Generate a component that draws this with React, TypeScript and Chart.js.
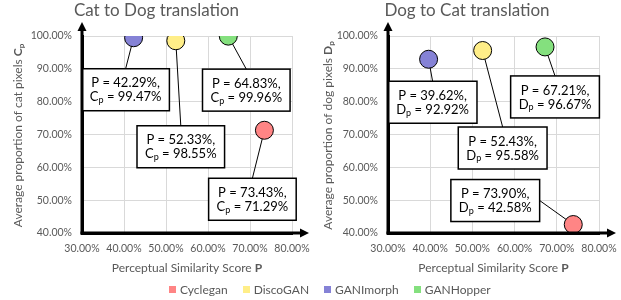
import { useEffect, useRef } from 'react';
import { Chart, registerables } from 'chart.js';

Chart.register(...registerables);

const FONT = 'Lato, "Open Sans", sans-serif';
const GRAY = '#595959';
const AXIS = '#000000';

const categories = ['Cyclegan', 'DiscoGAN', 'GANImorph', 'GANHopper'];
const colors = ['#FF8585', '#FFEE88', '#8582D6', '#84E07E'];

const catToDogP = [73.43, 52.33, 42.29, 64.83];
const catToDogCp = [71.29, 98.55, 99.47, 99.96];
const dogToCatP = [73.9, 52.43, 39.62, 67.21];
const dogToCatDp = [42.58, 95.58, 92.92, 96.67];

const xTickValues = [30, 40, 50, 60, 70, 80];
const xTickLabels = ['30.00%', '40.00%', '50.00%', '60.00%', '70.00%', '80.00%'];
const yTickValues = [40, 50, 60, 70, 80, 90, 100];
const yTickLabels = ['40.00%', '50.00%', '60.00%', '70.00%', '80.00%', '90.00%', '100.00%'];

// label box placement (styling): offset of box centre from its point, and where the leader attaches
const leftOffsets = [[-12, 69], [5, 106], [-8, 52], [18, 54]];
const leftAnchors = ['top', 'top', 'top', 'top'];
const rightOffsets = [[-78, -24], [20, 97.5], [4, 43], [10, 50]];
const rightAnchors = ['right', 'top', 'top', 'top'];

type Side = {
  key: string;
  title: string;
  xs: number[];
  ys: number[];
  sym: string;
  yTitle: string;
  offsets: number[][];
  anchors: string[];
  width: number;
  padRight: number;
  yWidth: number;
};

const sides: Side[] = [
  {
    key: 'left',
    title: 'Cat to Dog translation',
    xs: catToDogP,
    ys: catToDogCp,
    sym: 'C',
    yTitle: 'Average proportion of cat pixels ',
    offsets: leftOffsets,
    anchors: leftAnchors,
    width: 310,
    padRight: 18,
    yWidth: 82,
  },
  {
    key: 'right',
    title: 'Dog to Cat translation',
    xs: dogToCatP,
    ys: dogToCatDp,
    sym: 'D',
    yTitle: 'Average proportion of dog pixels ',
    offsets: rightOffsets,
    anchors: rightAnchors,
    width: 311,
    padRight: 22,
    yWidth: 78,
  },
];

function boxGeom(ctx: CanvasRenderingContext2D, p: number, v: number, sym: string) {
  ctx.font = `13px ${FONT}`;
  const l1 = `P = ${p.toFixed(2)}%,`;
  const rest = ` = ${v.toFixed(2)}%`;
  const w1 = ctx.measureText(l1).width;
  const wSym = ctx.measureText(sym).width;
  const wRest = ctx.measureText(rest).width;
  ctx.font = `9px ${FONT}`;
  const wSub = ctx.measureText('p').width;
  const w2 = wSym + wSub + wRest;
  return { l1, rest, w1, w2, wSym, wSub, wRest, w: Math.max(w1, w2) + 16, h: 42 };
}

function makeArrowPlugin(side: Side) {
  return {
    id: 'axisArrows_' + side.key,
    afterDraw(chart: any) {
      const ctx = chart.ctx as CanvasRenderingContext2D;
      const a = chart.chartArea;
      ctx.save();
      ctx.globalAlpha = 1;
      ctx.globalCompositeOperation = 'source-over';
      ctx.fillStyle = AXIS;
      const yTip = a.top - 14;
      const xTip = a.right + 17;
      ctx.fillRect(a.left - 1.5, yTip + 6, 3, a.bottom + 1.5 - (yTip + 6));
      ctx.fillRect(a.left - 1.5, a.bottom - 1.5, xTip - 6 - (a.left - 1.5), 3);
      ctx.beginPath();
      ctx.moveTo(a.left, yTip);
      ctx.lineTo(a.left - 4.5, yTip + 9);
      ctx.lineTo(a.left + 4.5, yTip + 9);
      ctx.closePath();
      ctx.fill();
      ctx.beginPath();
      ctx.moveTo(xTip, a.bottom);
      ctx.lineTo(xTip - 9, a.bottom - 4.5);
      ctx.lineTo(xTip - 9, a.bottom + 4.5);
      ctx.closePath();
      ctx.fill();
      ctx.restore();
    },
  };
}

function makeLabelPlugin(side: Side) {
  const getBoxes = (chart: any) => {
    const ctx = chart.ctx as CanvasRenderingContext2D;
    return side.xs.map((p, i) => {
      const el = chart.getDatasetMeta(i).data[0];
      const g = boxGeom(ctx, p, side.ys[i], side.sym);
      const cx = el.x + side.offsets[i][0];
      const cy = el.y + side.offsets[i][1];
      let ax = cx;
      let ay = cy - g.h / 2;
      if (side.anchors[i] === 'right') {
        ax = cx + g.w / 2;
        ay = cy;
      }
      return { ...g, cx, cy, px: el.x, py: el.y, ax, ay };
    });
  };
  return {
    id: 'pointLabels_' + side.key,
    beforeDatasetsDraw(chart: any) {
      const ctx = chart.ctx as CanvasRenderingContext2D;
      ctx.save();
      ctx.strokeStyle = '#000';
      ctx.lineWidth = 1;
      getBoxes(chart).forEach((b) => {
        ctx.beginPath();
        ctx.moveTo(b.px, b.py);
        ctx.lineTo(b.ax, b.ay);
        ctx.stroke();
      });
      ctx.restore();
    },
    afterDatasetsDraw(chart: any) {
      const ctx = chart.ctx as CanvasRenderingContext2D;
      ctx.save();
      getBoxes(chart).forEach((b) => {
        const x0 = b.cx - b.w / 2;
        const y0 = b.cy - b.h / 2;
        ctx.fillStyle = '#fff';
        ctx.fillRect(x0, y0, b.w, b.h);
        ctx.strokeStyle = '#000';
        ctx.lineWidth = 1.5;
        ctx.strokeRect(x0, y0, b.w, b.h);
        ctx.fillStyle = '#000';
        ctx.textBaseline = 'middle';
        ctx.font = `13px ${FONT}`;
        ctx.textAlign = 'center';
        ctx.fillText(b.l1, b.cx, b.cy - 6.5);
        ctx.textAlign = 'left';
        let x = b.cx - b.w2 / 2;
        const y2 = b.cy + 7.5;
        ctx.fillText(side.sym, x, y2);
        x += b.wSym;
        ctx.font = `9px ${FONT}`;
        ctx.fillText('p', x, y2 + 3);
        x += b.wSub;
        ctx.font = `13px ${FONT}`;
        ctx.fillText(b.rest, x, y2);
      });
      ctx.restore();
    },
    afterDraw(chart: any) {
      const ctx = chart.ctx as CanvasRenderingContext2D;
      const a = chart.chartArea;
      ctx.save();
      ctx.fillStyle = GRAY;
      ctx.font = `17px ${FONT}`;
      ctx.textAlign = 'center';
      ctx.textBaseline = 'alphabetic';
      ctx.fillText(side.title, chart.width / 2 + 1.5, 16);
      ctx.textBaseline = 'middle';
      ctx.textAlign = 'left';
      const xt = 'Perceptual Similarity Score ';
      ctx.font = `12px ${FONT}`;
      const wA = ctx.measureText(xt).width;
      ctx.font = `bold 12px ${FONT}`;
      const wB = ctx.measureText('P').width;
      let x = (a.left + a.right) / 2 - (wA + wB) / 2;
      ctx.font = `12px ${FONT}`;
      ctx.fillText(xt, x, 268);
      ctx.font = `bold 12px ${FONT}`;
      ctx.fillText('P', x + wA, 268);
      ctx.translate(18, (a.top + a.bottom) / 2 + 1);
      ctx.rotate(-Math.PI / 2);
      ctx.font = `12px ${FONT}`;
      const w1 = ctx.measureText(side.yTitle).width;
      ctx.font = `bold 12px ${FONT}`;
      const w2 = ctx.measureText(side.sym).width;
      ctx.font = `bold 8px ${FONT}`;
      const w3 = ctx.measureText('p').width;
      x = -(w1 + w2 + w3) / 2;
      ctx.font = `12px ${FONT}`;
      ctx.fillText(side.yTitle, x, 0);
      ctx.font = `bold 12px ${FONT}`;
      ctx.fillText(side.sym, x + w1, 0);
      ctx.font = `bold 8px ${FONT}`;
      ctx.fillText('p', x + w1 + w2, 3);
      ctx.restore();
    },
  };
}

function buildChart(canvas: HTMLCanvasElement, side: Side) {
  return new Chart(canvas, {
    type: 'scatter',
    data: {
      datasets: categories.map((name, i) => ({
        label: name,
        data: [{ x: side.xs[i], y: side.ys[i] }],
        backgroundColor: colors[i],
        borderColor: '#000',
        borderWidth: 1,
        pointRadius: 9,
        pointHoverRadius: 9,
      })),
    },
    options: {
      animation: false,
      responsive: false,
      maintainAspectRatio: false,
      events: [],
      layout: { padding: { left: 0, right: side.padRight, top: 36, bottom: 0 } },
      plugins: {
        legend: { display: false },
        tooltip: { enabled: false },
        title: { display: false },
      },
      scales: {
        x: {
          type: 'linear',
          min: 30,
          max: 80,
          afterBuildTicks: (s: any) => {
            s.ticks = xTickValues.map((v) => ({ value: v }));
          },
          afterFit: (s: any) => {
            s.height = 67;
            s.paddingLeft = 0;
            s.paddingRight = 0;
          },
          ticks: {
            autoSkip: false,
            maxRotation: 0,
            minRotation: 0,
            padding: 9,
            color: GRAY,
            font: { family: FONT, size: 10.5 },
            callback: (_v: any, i: number) => xTickLabels[i],
          },
          grid: { color: '#D9D9D9', drawTicks: false, lineWidth: 1 },
          border: { display: true, color: AXIS, width: 3 },
        },
        y: {
          type: 'linear',
          min: 40,
          max: 100,
          afterBuildTicks: (s: any) => {
            s.ticks = yTickValues.map((v) => ({ value: v }));
          },
          afterFit: (s: any) => {
            s.width = side.yWidth;
          },
          ticks: {
            autoSkip: false,
            padding: 10,
            color: GRAY,
            font: { family: FONT, size: 10.5 },
            callback: (_v: any, i: number) => yTickLabels[i],
          },
          grid: { color: '#D9D9D9', drawTicks: false, lineWidth: 1 },
          border: { display: true, color: AXIS, width: 3 },
        },
      },
    },
    plugins: [makeLabelPlugin(side), makeArrowPlugin(side)],
  } as any);
}

export default function App() {
  const leftRef = useRef<HTMLCanvasElement>(null);
  const rightRef = useRef<HTMLCanvasElement>(null);

  useEffect(() => {
    const c1 = buildChart(leftRef.current!, sides[0]);
    const c2 = buildChart(rightRef.current!, sides[1]);
    return () => {
      c1.destroy();
      c2.destroy();
    };
  }, []);

  return (
    <div style={{ position: 'fixed', left: 0, top: 0, width: 621, height: 300, background: '#fff', fontFamily: FONT }}>
      <canvas
        ref={leftRef}
        width={sides[0].width}
        height={300}
        style={{ position: 'absolute', left: 0, top: 0, width: sides[0].width, height: 300 }}
      />
      <canvas
        ref={rightRef}
        width={sides[1].width}
        height={300}
        style={{ position: 'absolute', left: 310, top: 0, width: sides[1].width, height: 300 }}
      />
      <div
        style={{
          position: 'absolute',
          left: 169,
          top: 282,
          height: 14,
          display: 'flex',
          alignItems: 'center',
          gap: 15,
          fontSize: 12,
          color: GRAY,
          whiteSpace: 'nowrap',
        }}
      >
        {categories.map((name, i) => (
          <div key={name} style={{ display: 'flex', alignItems: 'center' }}>
            <span style={{ display: 'inline-block', width: 7, height: 7, background: colors[i], marginRight: 4 }} />
            <span>{name}</span>
          </div>
        ))}
      </div>
    </div>
  );
}
